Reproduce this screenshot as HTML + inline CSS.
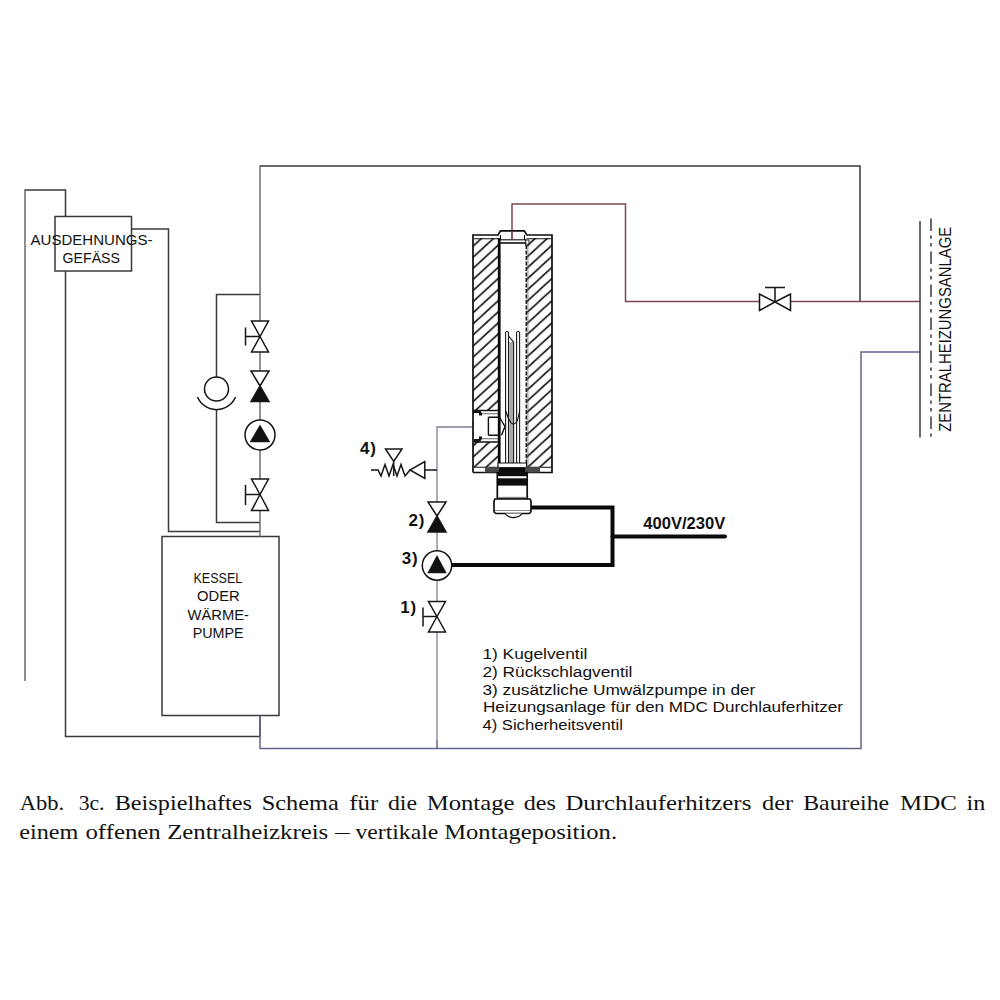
<!DOCTYPE html>
<html><head><meta charset="utf-8">
<style>
html,body{margin:0;padding:0;background:#ffffff;width:1000px;height:1000px;overflow:hidden}
svg{position:absolute;left:0;top:0;display:block}
text{font-family:"Liberation Sans",sans-serif}
.ser{font-family:"Liberation Serif",serif}
</style></head><body>
<svg width="1000" height="1000" viewBox="0 0 1000 1000">
<defs>
<pattern id="hatch" patternUnits="userSpaceOnUse" width="12.07" height="11.1" x="473" y="235.1">
<path d="M0,11.1 L12.07,0 M-2,1.84 L2,-1.84 M10.07,12.94 L14.07,9.26" stroke="#111" stroke-width="1.6" fill="none"/>
</pattern>
<pattern id="hatch2" patternUnits="userSpaceOnUse" width="12.07" height="11.1" x="526.5" y="235.3">
<path d="M0,11.1 L12.07,0 M-2,1.84 L2,-1.84 M10.07,12.94 L14.07,9.26" stroke="#111" stroke-width="1.6" fill="none"/>
</pattern>
</defs>

<!-- gray pipes -->
<g fill="none" stroke="#3a3a3a" stroke-width="1.5" stroke-linejoin="miter">
<path d="M65.5,216.5 V190 H25"/>
<rect x="55" y="216.5" width="76.5" height="54.5"/>
<path d="M131.5,229 H168.5 V531.5 H260"/>
<path d="M65.5,271 V736.5 H260 V715.5"/>
<rect x="162" y="536.5" width="117" height="179"/>
<path d="M260,166 H860 V301.5"/>
<path d="M260,294.5 H216.5 V377"/>
<path d="M216.5,409.6 V522.5 H260"/>
</g>

<line x1="260" y1="165.3" x2="260" y2="536.5" stroke="#666" stroke-width="1.4"/>
<line x1="25" y1="189.3" x2="25" y2="681" stroke="#6a6a6a" stroke-width="1.5"/>
<!-- blue-gray pipes -->
<g fill="none" stroke="#62668a" stroke-width="1.5">
<path d="M260,715.5 V748.5 H861 V352 H920"/>
<path d="M437,748.5 V740"/>
<path d="M437,632 V427 H473" stroke="#7d8098" stroke-width="1.3"/>
<path d="M437,740 V632" stroke="#7d8098" stroke-width="1.3"/>
</g>

<!-- red pipe -->
<g fill="none" stroke="#7a4850" stroke-width="1.5">
<path d="M512,240 V204 H625.5 V301.5 H920"/>
</g>

<!-- central heating lines -->
<line x1="920" y1="221" x2="920" y2="437.5" stroke="#3a3a3a" stroke-width="1.5"/>
<line x1="931" y1="218.5" x2="931" y2="437" stroke="#3a3a3a" stroke-width="1.5" stroke-dasharray="12.5 4.5 3.3 4.3 3.3 5.1"/>

<!-- valves on main line -->
<g fill="#fff" stroke="#161616" stroke-width="1.5" stroke-linejoin="miter">
<!-- valve w handle top -->
<path d="M251.5,321 H268.5 L260,336.5 Z M260,336.5 L268.5,352 H251.5 Z"/>
<path d="M245.5,336.5 H260 M245.5,327.5 V345.5" fill="none"/>
<!-- check valve -->
<path d="M251,371 H269 L260,386 Z"/>
<path d="M260,386 L269,401.5 H251 Z" fill="#111"/>
<!-- pump -->
<circle cx="260" cy="435" r="15"/>
<path d="M251,441.5 L260,426 L269,441.5 Z" fill="#111"/>
<!-- valve w handle bottom -->
<path d="M251.5,479 H268.5 L260,494.5 Z M260,494.5 L268.5,510.5 H251.5 Z"/>
<path d="M245.5,494.5 H260 M245.5,485 V505" fill="none"/>
<!-- bypass circle -->
<circle cx="216.5" cy="389" r="12"/>
<path d="M197.5,397 A20.6,20.6 0 0 0 235.5,397" fill="none"/>
</g>

<!-- valves on left feed line -->
<g fill="#fff" stroke="#161616" stroke-width="1.5">
<path d="M428,502 H446 L437,516 Z"/>
<path d="M437,516 L446,532 H428 Z" fill="#111"/>
<circle cx="437" cy="565.5" r="14.7"/>
<path d="M428.5,572.5 L437,556.5 L445.5,572.5 Z" fill="#111"/>
<path d="M428.5,601.5 H445.5 L437,616.5 Z M437,616.5 L445.5,632 H428.5 Z"/>
<path d="M423,616.5 H437 M423,607.5 V626.5" fill="none"/>
<!-- safety valve -->
<path d="M424.8,461.5 V478.5 L410,470 Z"/>
<path d="M425,470 H437" fill="none"/>
<path d="M385.5,449 H402 L393.7,461.5 Z"/>
<path d="M371,470 H378 L381,476 L385,464.5 L389,476 L393,464.5 L397,476 L401,464.5 L405,476 L410,470" fill="none"/>
<path d="M393.7,461.5 V476" fill="none"/>
</g>

<!-- valve on red line -->
<g fill="#fff" stroke="#161616" stroke-width="1.5">
<path d="M759.5,294 V310.5 L775,302 Z M775,302 L790.5,294 V310.5 Z"/>
<path d="M775,302 V287.5 M765,287.5 H785" fill="none"/>
</g>

<!-- power lines -->
<g fill="none" stroke="#0a0a0a" stroke-width="4">
<path d="M529,507.5 H612.5 V565 H451"/>
<path d="M612.5,536.5 H725" stroke-linecap="round"/>
</g>

<!-- heater -->
<g id="heater">
<rect x="473" y="238" width="26" height="229" fill="url(#hatch)"/>
<rect x="526.5" y="238" width="25.5" height="229" fill="url(#hatch2)"/>
<!-- side inlet -->
<rect x="474" y="410" width="24.5" height="32" fill="#fff"/>
<g fill="none" stroke="#111" stroke-width="1.4">
<path d="M473.5,410.5 H499 M474,442 H499"/>
</g>
<g fill="none" stroke="#666" stroke-width="1.1">
<path d="M481,413.8 H499 M481,438.8 H499"/>
</g>
<g fill="none" stroke="#111" stroke-width="1.4">
<path d="M488.4,417.3 V435.2 M488.4,417.3 H499.5 M488.4,435.2 H499.5"/>
<path d="M499.5,417.3 L505,426.5 L501.5,435.2"/>
</g>
<path d="M474,410 h6 l2,3.5 v2 h-3 v-2.5 h-5z M474,442 h6 l2,-3.5 v-2 h-3 v2.5 h-5z" fill="#111"/>
<!-- outer -->
<g fill="none" stroke="#0d0d0d" stroke-width="1.7">
<path d="M473,472.5 V235 H498 L500.5,230.8 H524.3 L526.8,235 H552 V472.5 H473"/>
</g>
<g fill="none" stroke="#111" stroke-width="1.1">
<path d="M474,238.7 H499 M526.5,238.7 H551"/>
<path d="M499,239.8 H526.5"/>
<path d="M500.5,235 V240 M524.5,235 V240"/>
<path d="M474,467.2 H499 M526,467.2 H551"/>
</g>
<line x1="499" y1="243" x2="526.5" y2="243" stroke="#111" stroke-width="1.6"/>
<rect x="525.5" y="240" width="3.5" height="5" fill="none" stroke="#222" stroke-width="0.9"/>
<line x1="499.2" y1="238" x2="499.2" y2="466" stroke="#0a0a0a" stroke-width="2.8"/>
<line x1="526.3" y1="245" x2="526.3" y2="466" stroke="#1a1a1a" stroke-width="1.5" stroke-dasharray="4 1.5"/>
<line x1="527.9" y1="245" x2="527.9" y2="466" stroke="#666" stroke-width="0.8"/>
<line x1="512" y1="231" x2="512" y2="240" stroke="#7a4850" stroke-width="1.2"/>
<!-- rods -->
<rect x="509.2" y="342" width="4" height="121" fill="#a8a8a8"/>
<g fill="none" stroke="#1a1a1a" stroke-width="1.1">
<path d="M505.6,463 V332.5 Q507,330 508.5,332.5 V463"/>
<path d="M516.6,463 V332.5 Q518.1,330 519.6,332.5 V463"/>
<path d="M508.6,336 L513.6,342.3 V463"/>
<path d="M505.8,411 Q510,425 514,424 Q518,423 519.5,411" stroke-width="1.2"/>
</g>
<!-- bottom band -->
<path d="M498,463 H526.5 V467.5 H498 Z" fill="#fff" stroke="#111" stroke-width="1.1"/>
<rect x="485" y="467.2" width="55" height="5.3" fill="#4a4a4a"/>
<rect x="499" y="467.5" width="26" height="5.3" fill="#0a0a0a"/>
<!-- connector -->
<path d="M497.3,472.5 H527.2 V499 H497.3 Z" fill="#fff" stroke="#0d0d0d" stroke-width="1.7"/>
<rect x="497.3" y="472.5" width="29.9" height="3.7" fill="#0d0d0d"/>
<rect x="497.3" y="478.3" width="29.9" height="7.3" fill="#0d0d0d"/>
<line x1="498" y1="497.5" x2="526.5" y2="497.5" stroke="#888" stroke-width="1.3"/>
<path d="M495,499 H530 Q531,500 531,502 V511 Q531,513 529,513.5 H496 Q494,513 494,511 V502 Q494,500 495,499 Z" fill="#fff" stroke="#0d0d0d" stroke-width="1.7"/>
<line x1="495" y1="510.5" x2="530" y2="510.5" stroke="#888" stroke-width="1"/>
<path d="M505,513.5 Q508,518 514,517.5 Q520,517 522,513.5" fill="#fff" stroke="#111" stroke-width="1.3"/>
</g>

<!-- texts -->
<g fill="#111">
<text x="30.5" y="244.5" font-size="14" textLength="122" lengthAdjust="spacingAndGlyphs">AUSDEHNUNGS-</text>
<text x="62.5" y="262.5" font-size="14" textLength="57.5" lengthAdjust="spacingAndGlyphs">GEFÄSS</text>
<text x="193.5" y="583.3" font-size="15" textLength="48.7" lengthAdjust="spacingAndGlyphs">KESSEL</text>
<text x="197" y="601.3" font-size="15" textLength="42.7" lengthAdjust="spacingAndGlyphs">ODER</text>
<text x="187.5" y="619.7" font-size="15" textLength="61.5" lengthAdjust="spacingAndGlyphs">WÄRME-</text>
<text x="192.7" y="637.7" font-size="15" textLength="51" lengthAdjust="spacingAndGlyphs">PUMPE</text>
<text x="643.3" y="529.3" font-size="16" font-weight="bold" textLength="82" lengthAdjust="spacingAndGlyphs">400V/230V</text>
<text x="360" y="454.3" font-size="17" font-weight="bold" letter-spacing="0.7">4)</text>
<text x="408.5" y="525.6" font-size="17" font-weight="bold" letter-spacing="0.7">2)</text>
<text x="401.8" y="564" font-size="17" font-weight="bold" letter-spacing="0.7">3)</text>
<text x="400.3" y="612.5" font-size="17" font-weight="bold" letter-spacing="0.7">1)</text>
<text x="482.4" y="659" font-size="14" textLength="105" lengthAdjust="spacingAndGlyphs">1) Kugelventil</text>
<text x="482.4" y="677" font-size="14" textLength="150" lengthAdjust="spacingAndGlyphs">2) Rückschlagventil</text>
<text x="482.4" y="695" font-size="14" textLength="273" lengthAdjust="spacingAndGlyphs">3) zusätzliche Umwälzpumpe in der</text>
<text x="483" y="712.4" font-size="14" textLength="360" lengthAdjust="spacingAndGlyphs">Heizungsanlage für den MDC Durchlauferhitzer</text>
<text x="482.4" y="730" font-size="14" textLength="140.5" lengthAdjust="spacingAndGlyphs">4) Sicherheitsventil</text>
<text transform="translate(950.6,431.8) rotate(-90)" font-size="15.8" textLength="205" lengthAdjust="spacingAndGlyphs">ZENTRALHEIZUNGSANLAGE</text>
<text class="ser" x="19.7" y="810.2" font-size="22" textLength="44.35" lengthAdjust="spacingAndGlyphs">Abb.</text>
<text class="ser" x="78.7" y="810.2" font-size="22" textLength="25.85" lengthAdjust="spacingAndGlyphs">3c.</text>
<text class="ser" x="114.7" y="810.2" font-size="22" textLength="137.35" lengthAdjust="spacingAndGlyphs">Beispielhaftes</text>
<text class="ser" x="261.7" y="810.2" font-size="22" textLength="77.10" lengthAdjust="spacingAndGlyphs">Schema</text>
<text class="ser" x="349.2" y="810.2" font-size="22" textLength="29.10" lengthAdjust="spacingAndGlyphs">für</text>
<text class="ser" x="387.95" y="810.2" font-size="22" textLength="29.10" lengthAdjust="spacingAndGlyphs">die</text>
<text class="ser" x="426.7" y="810.2" font-size="22" textLength="87.85" lengthAdjust="spacingAndGlyphs">Montage</text>
<text class="ser" x="523.7" y="810.2" font-size="22" textLength="32.10" lengthAdjust="spacingAndGlyphs">des</text>
<text class="ser" x="565.45" y="810.2" font-size="22" textLength="185.85" lengthAdjust="spacingAndGlyphs">Durchlauferhitzers</text>
<text class="ser" x="762.0" y="810.2" font-size="22" textLength="31.10" lengthAdjust="spacingAndGlyphs">der</text>
<text class="ser" x="803.2" y="810.2" font-size="22" textLength="86.00" lengthAdjust="spacingAndGlyphs">Baureihe</text>
<text class="ser" x="900.0" y="810.2" font-size="22" textLength="56.80" lengthAdjust="spacingAndGlyphs">MDC</text>
<text class="ser" x="966.6" y="810.2" font-size="22" textLength="18.70" lengthAdjust="spacingAndGlyphs">in</text>
<text class="ser" x="19.2" y="839" font-size="22" textLength="59.10" lengthAdjust="spacingAndGlyphs">einem</text>
<text class="ser" x="85.45" y="839" font-size="22" textLength="75.35" lengthAdjust="spacingAndGlyphs">offenen</text>
<text class="ser" x="167.2" y="839" font-size="22" textLength="161.10" lengthAdjust="spacingAndGlyphs">Zentralheizkreis</text>
<text class="ser" x="335.2" y="839" font-size="22" textLength="14.35" lengthAdjust="spacingAndGlyphs">–</text>
<text class="ser" x="355.45" y="839" font-size="22" textLength="82.85" lengthAdjust="spacingAndGlyphs">vertikale</text>
<text class="ser" x="444.2" y="839" font-size="22" textLength="172.85" lengthAdjust="spacingAndGlyphs">Montageposition.</text>
</g>
</svg>
</body></html>
